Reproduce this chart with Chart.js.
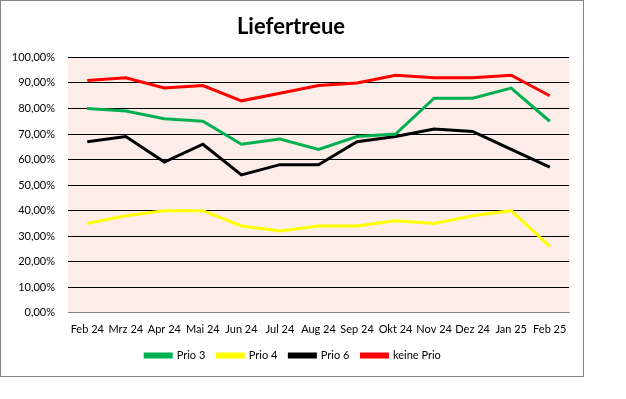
<!DOCTYPE html>
<html>
<head>
<meta charset="utf-8">
<script src="https://cdn.jsdelivr.net/npm/chart.js@4/dist/chart.umd.min.js"></script>
<style>
  html, body { margin: 0; padding: 0; background: #fff; }
  #frame { position: absolute; left: 0; top: 0; width: 584px; height: 377px;
           border: 1px solid #868686; box-sizing: border-box; background: #fff; }
  canvas { display: block; }
</style>
</head>
<body>
<div id="frame"><canvas id="liefertreue" width="582" height="375"></canvas></div>
<script>
const months = ['Feb 24', 'Mrz 24', 'Apr 24', 'Mai 24', 'Jun 24', 'Jul 24', 'Aug 24',
                'Sep 24', 'Okt 24', 'Nov 24', 'Dez 24', 'Jan 25', 'Feb 25'];
const prio3 = [80, 79, 76, 75, 66, 68, 64, 69, 70, 84, 84, 88, 75];
const prio4 = [35, 38, 40, 40, 34, 32, 34, 34, 36, 35, 38, 40, 26];
const prio6 = [67, 69, 59, 66, 54, 58, 58, 67, 69, 72, 71, 64, 57];
const keinePrio = [91, 92, 88, 89, 83, 86, 89, 90, 93, 92, 92, 93, 85];

const font = 'Lato, "Open Sans", sans-serif';

// pink plot background
const plotBg = {
  id: 'plotBg',
  beforeDraw(chart) {
    const a = chart.chartArea, c = chart.ctx;
    c.save();
    c.fillStyle = '#FCEDE8';
    c.fillRect(a.left, a.top, a.right - a.left, a.bottom - a.top);
    c.restore();
  }
};

// legend and title sit a little right of the canvas centre in the original
const nudge = {
  id: 'nudge',
  afterLayout(chart) {
    chart.legend.left += 8; chart.legend.right += 8;
    chart.titleBlock.left += 6; chart.titleBlock.right += 6;
  }
};

function line(label, data, color) {
  return { label: label, data: data, borderColor: color, backgroundColor: color,
           borderWidth: 3, pointRadius: 0, pointHoverRadius: 0, tension: 0 };
}

let ctx = document.getElementById('liefertreue');
let chart = new Chart(ctx, {
  type: 'line',
  data: {
    labels: months,
    datasets: [
      line('Prio 3', prio3, '#00B050'),
      line('Prio 4', prio4, '#FFFF00'),
      line('Prio 6', prio6, '#000000'),
      line('keine Prio', keinePrio, '#FF0000')
    ]
  },
  options: {
    responsive: false,
    animation: false,
    layout: { padding: { left: 0, right: 14, top: 0, bottom: 5 } },
    plugins: {
      title: {
        display: true, text: 'Liefertreue', color: '#000',
        font: { family: font, size: 22, weight: 'bold' },
        padding: { top: 13, bottom: 17 }
      },
      legend: {
        position: 'bottom',
        labels: {
          color: '#000', font: { family: font, size: 11 },
          boxWidth: 26, boxHeight: 3, padding: 12
        }
      },
      tooltip: { enabled: false }
    },
    scales: {
      x: {
        offset: true,
        grid: { display: false, offset: true },
        border: { display: true, color: '#868686', width: 1 },
        ticks: { color: '#000', font: { family: font, size: 11 }, autoSkip: false,
                 maxRotation: 0, minRotation: 0, padding: 2 }
      },
      y: {
        min: 0, max: 100,
        afterFit: s => { s.width = 67; },
        grid: { color: c => c.tick.value === 0 ? '#868686' : '#000', lineWidth: 1, drawTicks: false },
        border: { display: false },
        ticks: {
          stepSize: 10, padding: 13, color: '#000', font: { family: font, size: 11 },
          callback: v => v.toFixed(2).replace('.', ',') + '%'
        }
      }
    }
  },
  plugins: [plotBg, nudge]
});
</script>
</body>
</html>
